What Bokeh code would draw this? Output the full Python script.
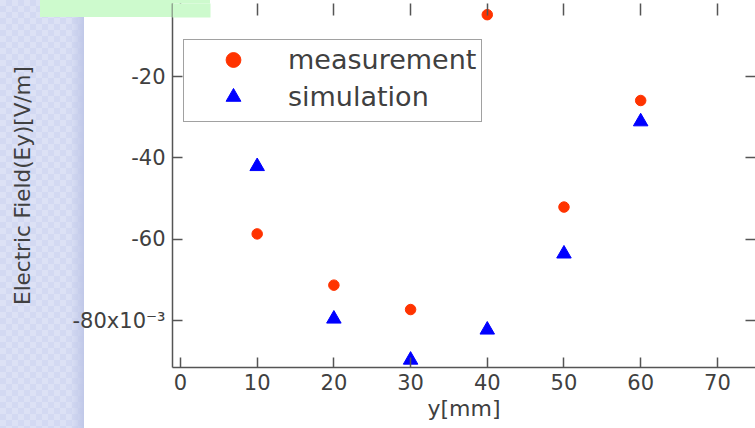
from bokeh.plotting import figure
from bokeh.models import (Range1d, LinearAxis, FixedTicker, Legend, LegendItem,
                          BoxAnnotation)
from bokeh.embed import file_html
from bokeh.resources import INLINE

# ---- data ----
position_mm = [10, 20, 30, 40, 50, 60]
measurement = [-58.7, -71.3, -77.3, -4.8, -52.1, -25.9]   # x10^-3 V/m
simulation = [-42.1, -79.6, -89.7, -82.3, -63.6, -31.1]   # x10^-3 V/m
x_ticks = [0, 10, 20, 30, 40, 50, 60, 70]
y_ticks = [-80, -60, -40, -20]
y_tick_labels = {-80: "-80x10\u207b\u00b3", -60: "-60", -40: "-40", -20: "-20"}
x_label = "y[mm]"
y_label = "Electric Field(Ey)[V/m]"
series_names = ["measurement", "simulation"]

FONT = "DejaVu Sans"
TXT = "#404040"
AX = "#555555"

# slide background behind the chart (left strip + green note box)
slide_bg = ", ".join([
    "linear-gradient(#cdfacd, #cdfacd) 40px 0px / 170px 17px no-repeat",
    "linear-gradient(#ffffff, #ffffff) 84px 0px / 671px 100% no-repeat",
    "linear-gradient(to right, rgba(190,198,232,0) 0%, #c0c8e8 100%) 70px 0px / 14px 100% no-repeat",
    "repeating-conic-gradient(#d3d9f2 0% 25%, #dce1f5 0% 50%) 0px 0px / 12px 12px",
])

p = figure(width=755, height=428, output_backend="svg", toolbar_location=None,
           x_range=Range1d(-1.04, 74.97), y_range=Range1d(-91.55, -2.05),
           min_border_left=172, min_border_right=0, min_border_top=3,
           min_border_bottom=61, outline_line_color=None,
           background_fill_color="white", border_fill_color=None,
           styles={"background": slide_bg})
p.grid.visible = False

# part of the green note box that overlaps the frame
p.add_layout(BoxAnnotation(left=-132, right=38, bottom=350, top=380,
                           left_units="screen", right_units="screen",
                           bottom_units="screen", top_units="screen",
                           fill_color="#cdfacd", fill_alpha=1, line_color=None,
                           level="overlay"))

xa = p.xaxis[0]
xa.ticker = FixedTicker(ticks=x_ticks)
ya = p.yaxis[0]
ya.ticker = FixedTicker(ticks=y_ticks)
for ax in (xa, ya):
    ax.major_tick_in = 10
    ax.major_tick_out = 0
    ax.minor_tick_line_color = None
    ax.major_tick_line_color = AX
    ax.major_tick_line_width = 1.5
    ax.axis_line_color = AX
    ax.axis_line_width = 1.5
    ax.major_label_text_font = FONT
    ax.major_label_text_color = TXT
    ax.major_label_text_font_size = "21px"
    ax.axis_label_text_font = FONT
    ax.axis_label_text_color = TXT
    ax.axis_label_text_font_style = "normal"
xa.axis_label = x_label
xa.axis_label_text_font_size = "22px"
xa.major_label_standoff = 6
xa.axis_label_standoff = 3
ya.axis_label = y_label
ya.axis_label_text_font_size = "21.5px"
ya.major_label_standoff = 7
ya.axis_label_standoff = 35
ya.major_label_overrides = y_tick_labels

# mirrored tick-only axes
top = LinearAxis(ticker=FixedTicker(ticks=x_ticks), axis_line_color=None,
                 major_tick_in=12, major_tick_out=0, minor_tick_line_color=None,
                 major_tick_line_color=AX, major_tick_line_width=1.5,
                 major_label_text_font_size="0px", major_label_text_color=None,
                 major_label_standoff=0)
right = LinearAxis(ticker=FixedTicker(ticks=y_ticks), axis_line_color=None,
                   major_tick_in=10, major_tick_out=0, minor_tick_line_color=None,
                   major_tick_line_color=AX, major_tick_line_width=1.5,
                   major_label_text_font_size="0px", major_label_text_color=None,
                   major_label_standoff=0)
p.add_layout(top, "above")
p.add_layout(right, "right")

r_meas = p.scatter(position_mm, measurement, marker="circle", size=10.5,
                   fill_color="#ff3300", line_color="#ff3300")
r_sim = p.scatter(position_mm, simulation, marker="triangle", size=14.5,
                  fill_color="#0000ff", line_color="#0000ff")

legend = Legend(items=[LegendItem(label=series_names[0], renderers=[r_meas]),
                       LegendItem(label=series_names[1], renderers=[r_sim])],
                location=(11, 245), margin=0,
                padding=dict(left=0, right=3, top=1, bottom=6), spacing=0,
                glyph_width=98, glyph_height=37, label_standoff=6,
                label_width=190, label_text_font=FONT,
                label_text_font_size="27px", label_text_color=TXT,
                border_line_color="#444444", border_line_width=1.5,
                background_fill_color="white", background_fill_alpha=1)
p.add_layout(legend)

open("out.html", "w").write(file_html(p, INLINE))
